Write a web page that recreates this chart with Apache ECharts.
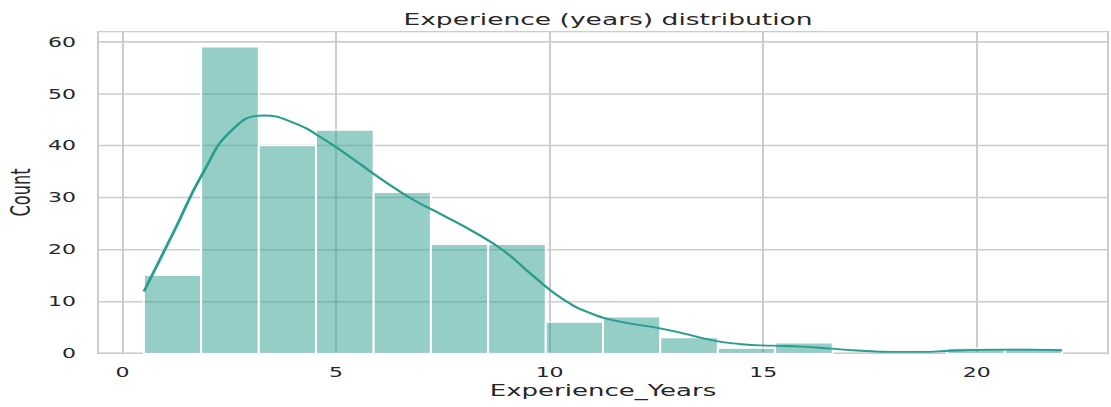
<!DOCTYPE html>
<html>
<head>
<meta charset="utf-8">
<script src="https://cdn.jsdelivr.net/npm/echarts@6/dist/echarts.min.js"></script>
<style>
  html, body { margin: 0; padding: 0; background: #fff; overflow: hidden; }
  #wrap { width: 1111px; height: 407px; overflow: hidden; }
  /* chart is laid out tall, then flattened to the page height */
  #chart { width: 1111px; height: 656px; transform: scaleY(0.6204); transform-origin: 0 0; }
</style>
</head>
<body>
<div id="wrap"><div id="chart"></div></div>
<script>
// Histogram bins of Experience_Years
const binEdges = [0.5, 1.84, 3.19, 4.53, 5.88, 7.22, 8.56, 9.91, 11.25, 12.59, 13.94, 15.28, 16.63, 17.97, 19.31, 20.66, 22.0];
const binCounts = [15, 59, 40, 43, 31, 21, 21, 6, 7, 3, 1, 2, 0, 0, 1, 1];

// Kernel density estimate, scaled to counts
const kdeX = [0.5, 1.2, 1.9, 2.6, 3.3, 4.0, 4.7, 5.4, 6.1, 6.8, 7.5, 8.2, 8.9, 9.6, 10.3, 11.0, 11.7, 12.4, 13.1, 13.8, 14.5, 15.2, 15.9, 16.6, 17.3, 18.0, 18.7, 19.4, 20.1, 20.8, 21.5, 22.0];
const kdeY = [11.9, 23.4, 35.0, 43.3, 45.8, 44.4, 41.3, 37.4, 33.3, 29.6, 26.6, 23.5, 19.9, 15.0, 10.5, 7.6, 6.0, 5.1, 3.9, 2.55, 1.75, 1.48, 1.3, 0.9, 0.5, 0.28, 0.28, 0.5, 0.65, 0.7, 0.65, 0.6];

// Axis tick labels
const xTicks = [0, 5, 10, 15, 20];
const yTicks = [0, 10, 20, 30, 40, 50, 60];

const barData = [];
for (let i = 0; i < binCounts.length; i++) {
  if (binCounts[i] > 0) barData.push([binEdges[i], binEdges[i + 1], binCounts[i]]);
}
const kdeData = kdeX.map((x, i) => [x, kdeY[i]]);

const font = 'DejaVu Sans';
const textColor = '#262626';
const gridColor = '#cccccc';
const teal = '#2a9d8f';

const chart = echarts.init(document.getElementById('chart'), null, { renderer: 'svg' });
chart.setOption({
  animation: false,
  backgroundColor: '#ffffff',
  title: {
    text: 'Experience (years) distribution',
    left: 603, textAlign: 'center', top: 12,
    textStyle: { fontFamily: font, fontSize: 26.5, fontWeight: 'normal', color: textColor }
  },
  grid: {
    left: 98, right: 3, top: 51, bottom: 86.5,
    show: true, borderColor: gridColor, borderWidth: 2, backgroundColor: 'transparent'
  },
  xAxis: {
    type: 'value', min: -0.575, max: 23.075,
    name: 'Experience_Years', nameLocation: 'middle', nameGap: 44,
    nameTextStyle: { fontFamily: font, fontSize: 26, color: textColor },
    axisLine: { show: false },
    axisTick: { show: false, customValues: xTicks },
    axisLabel: { customValues: xTicks, fontFamily: font, fontSize: 22, color: textColor, margin: 20 },
    splitLine: { show: true, lineStyle: { color: gridColor, width: 2 } }
  },
  yAxis: {
    type: 'value', min: 0, max: 61.95,
    name: 'Count', nameLocation: 'middle', nameGap: 64, nameRotate: 90,
    nameTextStyle: { fontFamily: font, fontSize: 26, color: textColor },
    axisLine: { show: false },
    axisTick: { show: false, customValues: yTicks },
    axisLabel: { customValues: yTicks, fontFamily: font, fontSize: 22, color: textColor, margin: 22 },
    splitLine: { show: true, lineStyle: { color: gridColor, width: 2.5 } }
  },
  series: [
    {
      type: 'custom',
      data: barData,
      encode: { x: [0, 1], y: 2 },
      renderItem: function (params, api) {
        const topLeft = api.coord([api.value(0), api.value(2)]);
        const bottomRight = api.coord([api.value(1), 0]);
        return {
          type: 'rect',
          shape: {
            x: topLeft[0], y: topLeft[1],
            width: bottomRight[0] - topLeft[0], height: bottomRight[1] - topLeft[1]
          },
          style: { fill: 'rgba(42,157,143,0.5)', stroke: '#ffffff', lineWidth: 2 }
        };
      },
      z: 2
    },
    {
      type: 'line',
      data: kdeData,
      smooth: 0.5,
      showSymbol: false,
      lineStyle: { color: teal, width: 3 },
      z: 3
    }
  ]
});
</script>
</body>
</html>
